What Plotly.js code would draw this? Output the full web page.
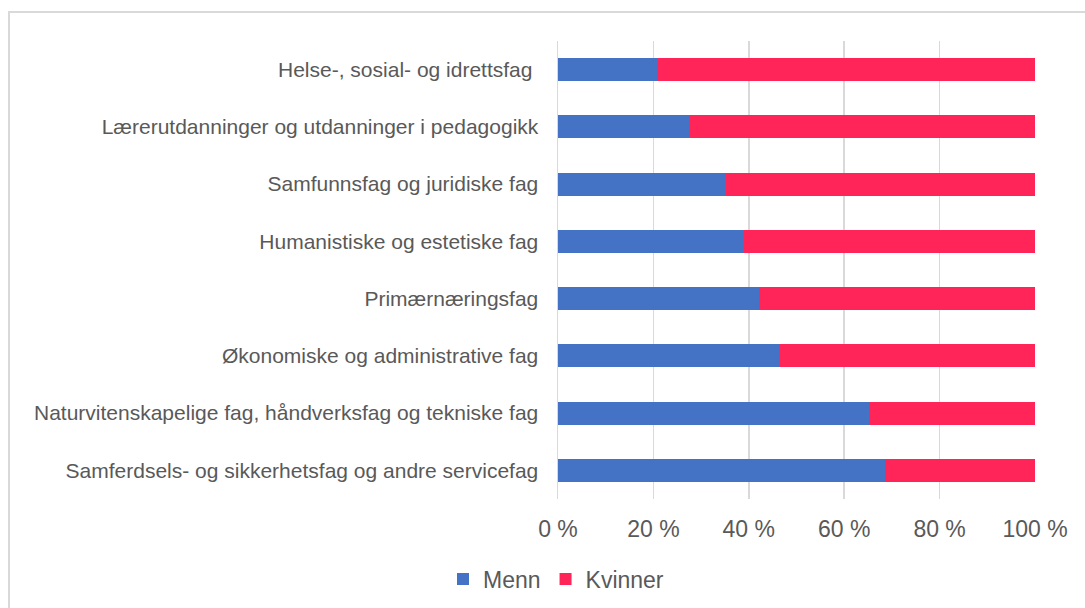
<!DOCTYPE html>
<html><head><meta charset="utf-8">
<script src="https://cdn.plot.ly/plotly-3.0.1.min.js"></script>
<style>
html,body{margin:0;padding:0;background:#fff;}
#chart{position:absolute;left:0;top:0;width:1085px;height:608px;}
#frame{position:absolute;left:8px;top:11px;width:1100px;height:620px;border-left:2px solid #d9d9d9;border-top:2px solid #d9d9d9;pointer-events:none;}
</style></head>
<body>
<div id="chart"></div>
<div id="frame"></div>
<script>
const categories = [
  "Helse-, sosial- og idrettsfag ",
  "Lærerutdanninger og utdanninger i pedagogikk",
  "Samfunnsfag og juridiske fag",
  "Humanistiske og estetiske fag",
  "Primærnæringsfag",
  "Økonomiske og administrative fag",
  "Naturvitenskapelige fag, håndverksfag og tekniske fag",
  "Samferdsels- og sikkerhetsfag og andre servicefag"
];
const menn = [21.0, 27.7, 35.2, 39.0, 42.2, 46.5, 65.3, 68.5];
const kvinner = [79.0, 72.3, 64.8, 61.0, 57.8, 53.5, 34.7, 31.5];
const tickVals = [0, 20, 40, 60, 80, 100];
const tickText = ["0 %", "20 %", "40 %", "60 %", "80 %", "100 %"];

const traces = [
  {type:'bar', orientation:'h', name:'Menn', y:categories, x:menn,
   marker:{color:'#4472C4'}, hoverinfo:'skip'},
  {type:'bar', orientation:'h', name:'Kvinner', y:categories, x:kvinner,
   marker:{color:'#FF2559'}, hoverinfo:'skip'}
];
const layout = {
  width:1085, height:608,
  margin:{l:558, r:50, t:41, b:109, autoexpand:false},
  barmode:'stack', bargap:0.6,
  paper_bgcolor:'rgba(0,0,0,0)', plot_bgcolor:'#fff',
  font:{family:'Liberation Sans, Arial, sans-serif', color:'#595959'},
  xaxis:{range:[0,100], tickvals:tickVals, ticktext:tickText, showgrid:true,
    gridcolor:'#d9d9d9', gridwidth:1.5, zeroline:false, showline:false,
    tickfont:{size:23, color:'#595959'}, ticks:'', ticklabelstandoff:14, fixedrange:true},
  yaxis:{type:'category', categoryorder:'array', categoryarray:categories,
    autorange:'reversed', showgrid:false, zeroline:false, showline:true,
    linecolor:'#d9d9d9', linewidth:1.5, ticks:'', ticklabelstandoff:14,
    tickfont:{size:21, color:'#595959'}, fixedrange:true},
  showlegend:true,
  legend:{orientation:'h', x:(556-558)/(1085-558-50), xanchor:'center', y:-0.175, yanchor:'middle',
    font:{size:23, color:'#595959'}, itemwidth:30, traceorder:'normal'}
};
Plotly.newPlot('chart', traces, layout, {displayModeBar:false, staticPlot:true});
</script>
</body></html>
